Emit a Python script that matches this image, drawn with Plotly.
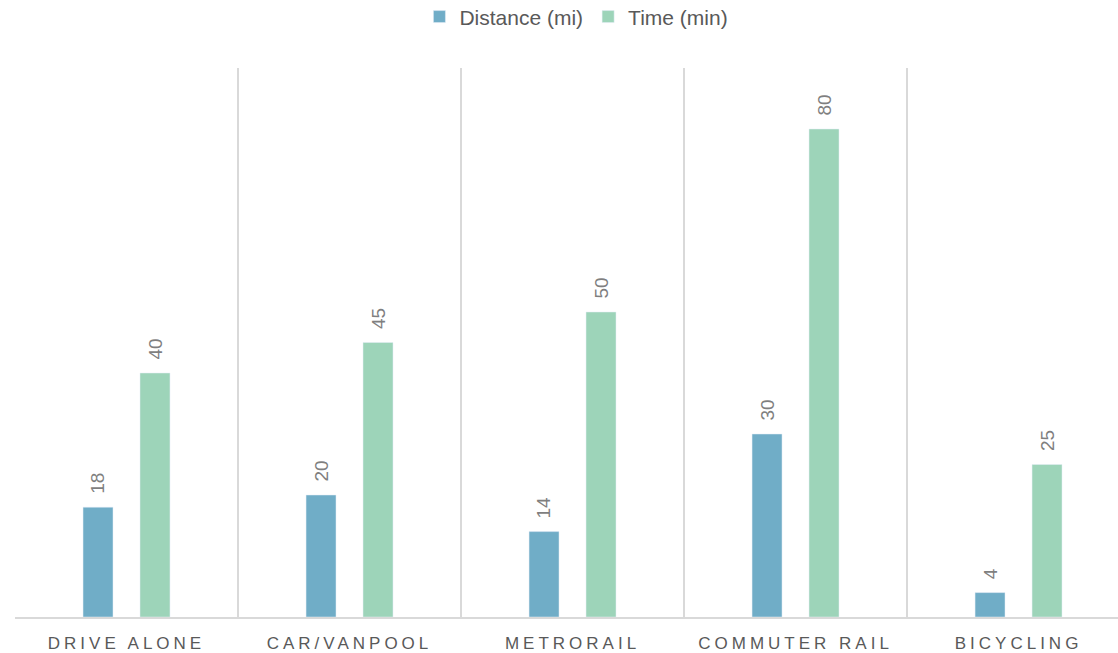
import plotly.graph_objects as go

modes = ["DRIVE ALONE", "CAR/VANPOOL", "METRORAIL", "COMMUTER RAIL", "BICYCLING"]
distance_mi = [18, 20, 14, 30, 4]
time_min = [40, 45, 50, 80, 25]

FONT = "Liberation Sans, Arial, sans-serif"
label_font = dict(family=FONT, size=19, color="#7f7f7f")

fig = go.Figure()
fig.add_trace(go.Bar(name="Distance (mi)", x=modes, y=distance_mi, marker_color="#70adc7"))
fig.add_trace(go.Bar(name="Time (min)", x=modes, y=time_min, marker_color="#9dd4b9"))

# value labels, rotated, sitting a little above each bar
for series, shift in ((distance_mi, -28.5), (time_min, 28.5)):
    for mode, val in zip(modes, series):
        fig.add_annotation(
            x=mode, y=val, xref="x", yref="y",
            text=str(val), textangle=-90, showarrow=False,
            xanchor="center", yanchor="bottom",
            xshift=shift, yshift=11, font=label_font,
        )

fig.update_layout(
    width=1118, height=653,
    margin=dict(l=15, r=0, t=68, b=36, autoexpand=False),
    paper_bgcolor="white", plot_bgcolor="white",
    barmode="group", bargap=0.489, bargroupgap=0.474,
    font=dict(family=FONT, color="#595959"),
    showlegend=True,
    legend=dict(orientation="h", x=0.509, xanchor="center", y=1.093, yanchor="middle",
                font=dict(size=21, color="#595959"),
                itemwidth=30, traceorder="normal"),
)

fig.update_xaxes(
    type="category", range=[-0.5, 4.446],
    tickson="boundaries", ticks="", showgrid=True,
    gridcolor="#d9d9d9", gridwidth=1.5,
    showline=True, linecolor="#d9d9d9", linewidth=2,
    tickfont=dict(size=17, color="#595959"),
    ticklabelstandoff=10,
)
fig.update_yaxes(range=[0, 90], visible=False, showgrid=False, zeroline=False)

fig.write_html(
    "out.html",
    post_script="""
var st = document.createElement('style');
st.innerHTML = '.xtick text { letter-spacing: 4px; }';
document.head.appendChild(st);
""",
)
